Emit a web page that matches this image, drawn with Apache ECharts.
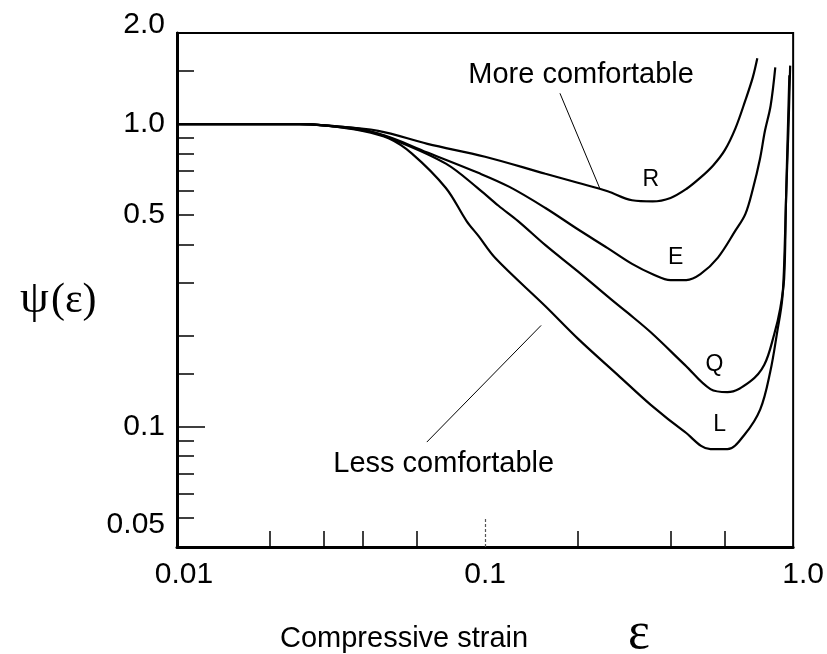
<!DOCTYPE html>
<html>
<head>
<meta charset="utf-8">
<script src="https://cdn.jsdelivr.net/npm/echarts@6/dist/echarts.min.js"></script>
<style>
  html, body { margin: 0; padding: 0; background: #fff; }
  #chart { width: 827px; height: 654px; }
</style>
</head>
<body>
<div id="chart"></div>
<script>
// Energy-absorption efficiency curves psi(epsilon) for four cushion materials
const strainR = [0.01, 0.02, 0.025, 0.03, 0.045, 0.065, 0.1, 0.157, 0.2, 0.25, 0.3, 0.35, 0.4, 0.45, 0.5, 0.55, 0.6, 0.65, 0.7, 0.74, 0.765];
const psiR    = [1.0, 1.0, 1.0, 0.99, 0.95, 0.86, 0.78, 0.685, 0.64, 0.60, 0.56, 0.555, 0.57, 0.61, 0.665, 0.73, 0.82, 0.97, 1.2, 1.43, 1.65];

const strainE = [0.01, 0.02, 0.025, 0.03, 0.045, 0.065, 0.095, 0.12, 0.157, 0.2, 0.25, 0.3, 0.35, 0.4, 0.45, 0.5, 0.57, 0.65, 0.7, 0.74, 0.78, 0.81, 0.845, 0.875];
const psiE    = [1.0, 1.0, 1.0, 0.99, 0.93, 0.805, 0.69, 0.62, 0.528, 0.449, 0.389, 0.345, 0.319, 0.305, 0.305, 0.319, 0.362, 0.445, 0.505, 0.61, 0.765, 0.95, 1.15, 1.54];

const strainQ = [0.01, 0.02, 0.025, 0.03, 0.04, 0.0514, 0.0746, 0.0953, 0.1106, 0.128, 0.157, 0.2, 0.256, 0.29, 0.345, 0.445, 0.539, 0.612, 0.726, 0.806, 0.868, 0.908, 0.935, 0.948, 0.965, 0.978];
const psiQ    = [1.0, 1.0, 1.0, 0.99, 0.96, 0.882, 0.74, 0.611, 0.537, 0.478, 0.398, 0.326, 0.264, 0.238, 0.205, 0.160, 0.133, 0.130, 0.141, 0.160, 0.202, 0.246, 0.309, 0.56, 0.95, 1.56];

const strainL = [0.01, 0.02, 0.025, 0.03, 0.04, 0.0488, 0.0579, 0.0746, 0.0871, 0.0953, 0.1081, 0.157, 0.2005, 0.27, 0.345, 0.445, 0.539, 0.612, 0.695, 0.782, 0.843, 0.888, 0.922, 0.938, 0.955, 0.972];
const psiL    = [1.0, 1.0, 1.0, 0.99, 0.95, 0.896, 0.799, 0.615, 0.478, 0.426, 0.36, 0.25, 0.195, 0.148, 0.118, 0.096, 0.0842, 0.0842, 0.094, 0.114, 0.152, 0.206, 0.265, 0.38, 0.75, 1.45];

// Axis ticks and labels
const xTickValues  = [0.02, 0.03, 0.04, 0.06, 0.2, 0.4, 0.6];
const xLabelValues = [0.01, 0.1, 1.0];
const yTickValues  = [1.5, 1.0, 0.9, 0.8, 0.7, 0.6, 0.5, 0.4, 0.3, 0.2, 0.15, 0.09, 0.08, 0.07, 0.06, 0.05];
const yLabelValues = [2.0, 1.0, 0.5, 0.1, 0.05];

const SANS = 'Liberation Sans, Arial, Helvetica, sans-serif';
const SERIF = 'Liberation Serif, DejaVu Serif, serif';

function pairs(xs, ys) {
  return xs.map((x, i) => [x, ys[i]]);
}

const curveStyle = { color: '#000', width: 2.2 };
const noteLabel = (size) => ({
  show: true, position: 'inside', formatter: '{b}',
  color: '#000', fontFamily: SANS, fontSize: size
});

function curve(name, xs, ys, notes, leaders) {
  return {
    type: 'line',
    name: name,
    data: pairs(xs, ys),
    showSymbol: false,
    smooth: 0.35,
    lineStyle: curveStyle,
    silent: true,
    markPoint: notes ? {
      symbol: 'circle', symbolSize: 0, silent: true,
      data: notes.map(n => ({ name: n.text, coord: n.at, label: noteLabel(n.size) }))
    } : undefined,
    markLine: leaders ? {
      symbol: ['none', 'none'], silent: true,
      label: { show: false },
      lineStyle: { color: '#000', width: 1, type: 'solid' },
      data: leaders.map(l => [{ coord: l[0] }, { coord: l[1] }])
    } : undefined
  };
}

const chart = echarts.init(document.getElementById('chart'), null, { renderer: 'canvas' });

const xFmt = v => {
  if (Math.abs(v - 0.01) < 1e-9) return '{l|0.01}';
  if (Math.abs(v - 1) < 1e-9) return '{r|1.0}';
  return '{m|0.1}';
};
const yFmt = v => {
  if (Math.abs(v - 2) < 1e-9) return '{t|2.0}';
  if (Math.abs(v - 0.05) < 1e-9) return '{b|0.05}';
  return '{m|' + (v >= 0.5 ? v.toFixed(1) : String(v)) + '}';
};
const lab = { fontSize: 30, fontFamily: SANS, color: '#000' };

chart.setOption({
  animation: false,
  backgroundColor: '#fff',
  grid: {
    left: 177, top: 33, width: 619, height: 514,
    show: true, borderColor: '#000', borderWidth: 2, backgroundColor: 'transparent'
  },
  xAxis: [{
    type: 'log', logBase: 10, min: 0.01, max: 1, position: 'bottom',
    axisLine: { show: true, lineStyle: { color: '#000', width: 3 } },
    axisTick: { show: true, inside: true, length: 16, customValues: xTickValues, lineStyle: { color: '#000', width: 1.5 } },
    axisLabel: {
      show: true, customValues: xLabelValues, margin: 13, formatter: xFmt,
      rich: {
        l: Object.assign({ padding: [0, 0, 0, 14] }, lab),
        m: Object.assign({}, lab),
        r: Object.assign({ padding: [0, 0, 0, 20] }, lab)
      }
    },
    splitLine: { show: false }, minorTick: { show: false }
  }, {
    type: 'log', logBase: 10, min: 0.01, max: 1, gridIndex: 0, position: 'bottom',
    axisLine: { show: false },
    axisTick: { show: true, inside: true, length: 30, customValues: [0.1], lineStyle: { color: '#555', width: 1.2, type: [3, 2] } },
    axisLabel: { show: false },
    splitLine: { show: false }
  }],
  yAxis: [{
    type: 'log', logBase: 10, min: 0.04, max: 2, position: 'left',
    axisLine: { show: true, lineStyle: { color: '#000', width: 3 } },
    axisTick: { show: true, inside: true, length: 17, customValues: yTickValues, lineStyle: { color: '#000', width: 1.5 } },
    axisLabel: {
      show: true, customValues: yLabelValues, margin: 12, formatter: yFmt,
      rich: {
        t: Object.assign({ padding: [0, 0, 16, 0] }, lab),
        m: Object.assign({}, lab),
        b: Object.assign({ padding: [14, 0, 0, 0] }, lab)
      }
    },
    splitLine: { show: false }, minorTick: { show: false }
  }, {
    type: 'log', logBase: 10, min: 0.04, max: 2, gridIndex: 0, position: 'left',
    axisLine: { show: false },
    axisTick: { show: true, inside: true, length: 28, customValues: [0.1], lineStyle: { color: '#000', width: 1.5 } },
    axisLabel: { show: false },
    splitLine: { show: false }
  }],
  series: [
    curve('R', strainR, psiR,
      [{ text: 'R', at: [0.345, 0.655], size: 23 },
       { text: 'More comfortable', at: [0.205, 1.45], size: 29 }],
      [[[0.175, 1.264], [0.236, 0.611]]]),
    curve('E', strainE, psiE, [{ text: 'E', at: [0.4156, 0.361], size: 23 }]),
    curve('Q', strainQ, psiQ, [{ text: 'Q', at: [0.5556, 0.160], size: 23 }]),
    curve('L', strainL, psiL,
      [{ text: 'L', at: [0.5768, 0.1012], size: 23 },
       { text: 'Less comfortable', at: [0.0734, 0.0751], size: 29 }],
      [[[0.0647, 0.0889], [0.152, 0.216]]])
  ],
  graphic: [
    { type: 'text', x: 20, y: 300, style: { text: 'ψ', fontSize: 46, fontFamily: SERIF, fill: '#000', verticalAlign: 'middle' } },
    { type: 'text', x: 51, y: 301, style: { text: '(ε)', fontSize: 42, fontFamily: SERIF, fill: '#000', verticalAlign: 'middle' } },
    { type: 'text', x: 280, y: 639, style: { text: 'Compressive strain', fontSize: 29, fontFamily: SANS, fill: '#000', verticalAlign: 'middle' } },
    { type: 'text', x: 628, y: 634, style: { text: 'ε', fontSize: 52, fontFamily: SERIF, fill: '#000', verticalAlign: 'middle' } }
  ]
});
</script>
</body>
</html>
